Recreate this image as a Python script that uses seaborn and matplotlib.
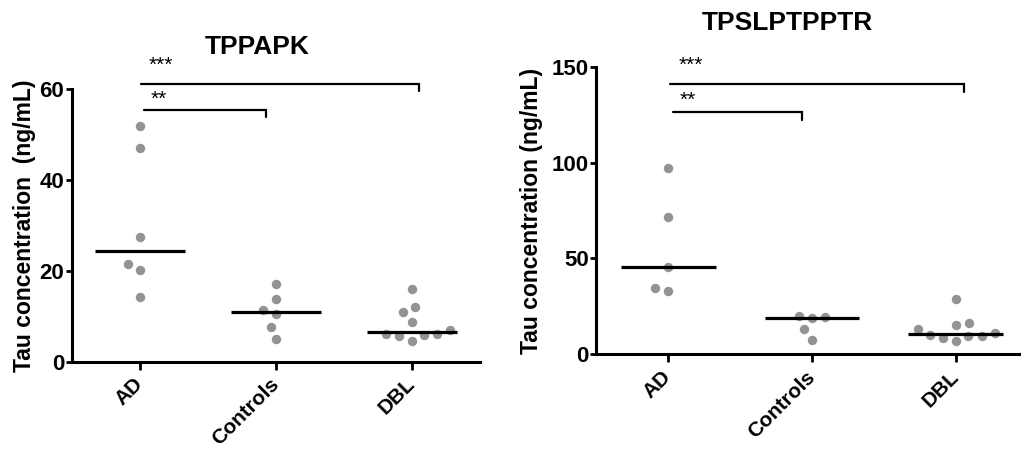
import numpy as np
import pandas as pd
import matplotlib
matplotlib.use("Agg")
import matplotlib.pyplot as plt
import seaborn as sns

groups = ["AD", "Controls", "DBL"]

# TPPAPK panel (ng/mL)
tppapk_ad = [51.8, 47.0, 27.4, 21.5, 20.2, 14.3]
tppapk_controls = [17.2, 13.7, 11.4, 10.5, 7.7, 5.1]
tppapk_dbl = [16.1, 12.1, 10.9, 8.8, 6.9, 6.0, 6.0, 5.9, 5.6, 4.6]

# TPSLPTPPTR panel (ng/mL)
tpslp_ad = [97.0, 71.8, 45.4, 34.4, 33.0]
tpslp_controls = [20.1, 19.6, 19.1, 13.0, 7.5]
tpslp_dbl = [29.0, 16.2, 15.1, 13.0, 10.9, 10.1, 9.5, 9.4, 8.3, 6.9]

titles = ["TPPAPK", "TPSLPTPPTR"]
ylabels = ["Tau concentration  (ng/mL)", "Tau concentration (ng/mL)"]
y_max = [60, 150]
y_ticks = [[0, 20, 40, 60], [0, 50, 100, 150]]

# significance brackets: (start, end, height, drop, label)
brackets_left = [(0.01, 2.05, 61.1, 59.6, "***"), (0.03, 0.93, 55.4, 53.9, "**")]
brackets_right = [(0.01, 2.06, 140.9, 136.6, "***"), (0.03, 0.93, 126.5, 122.2, "**")]
star_pos_left = [(0.06, 65.3), (0.08, 57.8)]
star_pos_right = [(0.07, 150.8), (0.08, 132.6)]
title_pos = [(0.86, 69.2), (0.83, 172.7)]

DOT = "#939393"


def long_frame(ad, ctrl, dbl):
    rows = []
    for g, vals in zip(groups, [ad, ctrl, dbl]):
        for v in vals:
            rows.append({"group": g, "value": v})
    return pd.DataFrame(rows)


sns.set_style("ticks")
plt.rcParams["font.family"] = ["Liberation Sans", "DejaVu Sans"]
for key in ["text.color", "axes.edgecolor", "axes.labelcolor", "xtick.color", "ytick.color"]:
    plt.rcParams[key] = "black"

fig = plt.figure(figsize=(10.21, 4.5), dpi=100)
ax1 = fig.add_axes([0.0705, 0.1962, 0.3996, 0.606])
ax2 = fig.add_axes([0.5842, 0.2127, 0.4222, 0.639])

panels = [
    (ax1, long_frame(tppapk_ad, tppapk_controls, tppapk_dbl), brackets_left, star_pos_left),
    (ax2, long_frame(tpslp_ad, tpslp_controls, tpslp_dbl), brackets_right, star_pos_right),
]

for i, (ax, df, brackets, stars) in enumerate(panels):
    sns.swarmplot(data=df, x="group", y="value", order=groups, color=DOT,
                  size=8.0, linewidth=1.2, edgecolor="white", ax=ax, zorder=2)
    for c in ax.collections:
        c.set_clip_on(False)

    med = df.groupby("group")["value"].median().reindex(groups)
    for j, m in enumerate(med.values):
        ax.hlines(m, j - 0.33, j + 0.33, color="black", lw=2.3, zorder=3)

    for (x0, x1, h, d, lab), (sx, sy) in zip(brackets, stars):
        ax.plot([x0, x1, x1], [h, h, d], color="black", lw=1.6, clip_on=False,
                solid_joinstyle="miter")
        ax.text(sx, sy, lab, ha="left", va="center", fontsize=15, clip_on=False)

    tx, ty = title_pos[i]
    ax.text(tx, ty, titles[i], ha="center", va="center", fontsize=19,
            fontweight="bold", clip_on=False)

    ax.set_xlim(-0.5, 2.5)
    ax.set_ylim(0, y_max[i])
    ax.set_yticks(y_ticks[i])
    ax.set_xlabel("")
    ax.set_ylabel(ylabels[i], fontsize=16.5, fontweight="bold")
    ax.yaxis.set_label_coords(-0.088 if i == 0 else -0.124, 0.5)

    sns.despine(ax=ax)
    for s in ["left", "bottom"]:
        ax.spines[s].set_linewidth(2.2)
    ax.tick_params(axis="y", length=4, width=2, pad=1.5, labelsize=16)
    ax.tick_params(axis="x", length=6, width=2, pad=8, labelsize=15)
    for lbl in ax.get_yticklabels():
        lbl.set_fontweight("bold")
    for lbl in ax.get_xticklabels():
        lbl.set_fontweight("bold")
        lbl.set_rotation(45)
        lbl.set_ha("right")
        lbl.set_va("center")
        lbl.set_rotation_mode("anchor")

fig.savefig("out.png", dpi=100)
